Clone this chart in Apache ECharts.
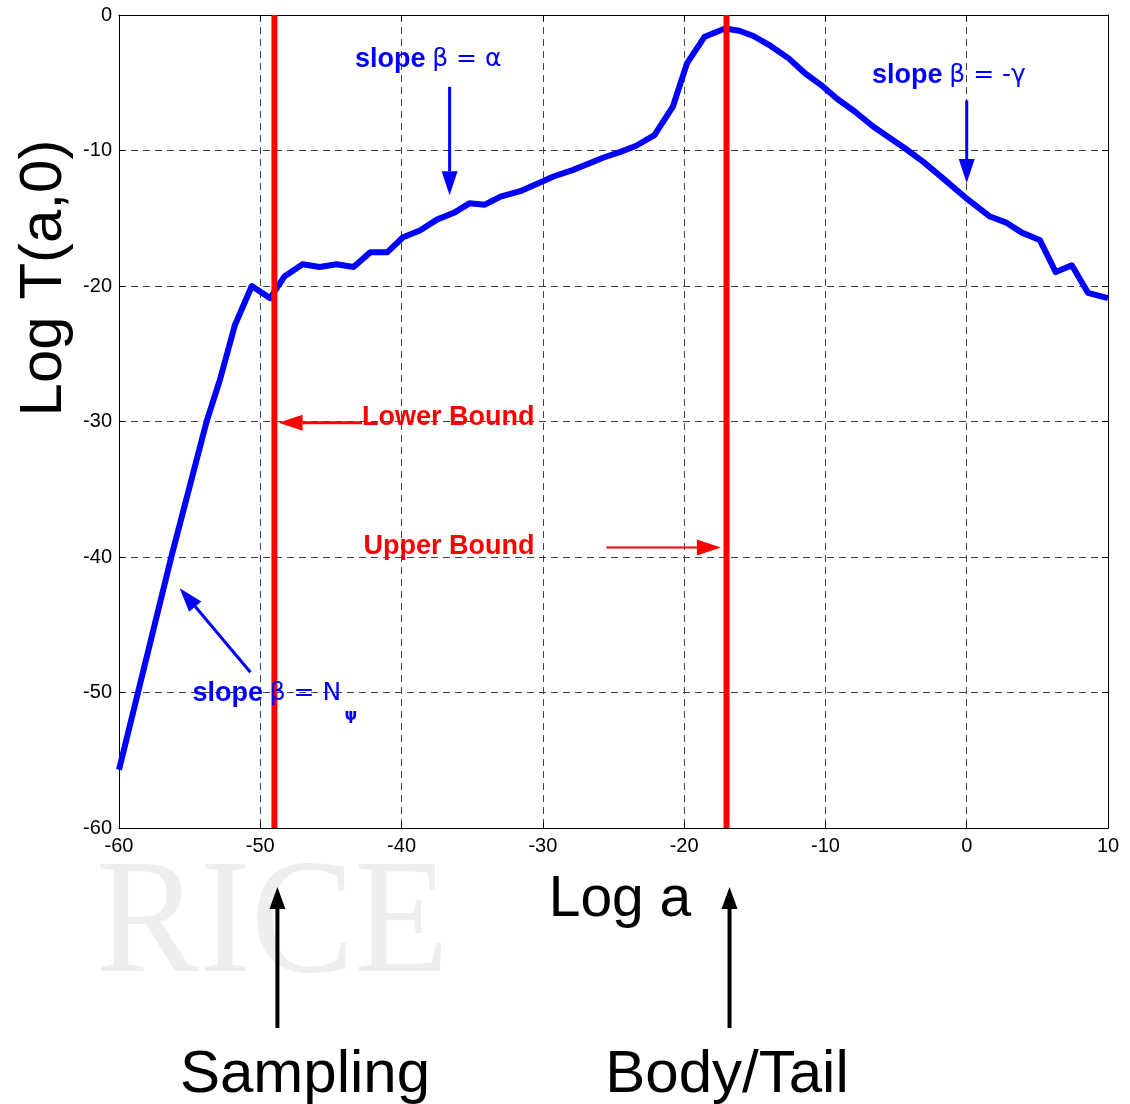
<!DOCTYPE html>
<html>
<head>
<meta charset="utf-8">
<script src="https://cdn.jsdelivr.net/npm/echarts@6/dist/echarts.min.js"></script>
<style>
  html, body { margin: 0; padding: 0; background: #fff; }
  #charts { width: 1130px; height: 1104px; }
</style>
</head>
<body>
<div id="charts"></div>
<script>
// curve
var logA = [-60, -56.3, -53.8, -52.85, -51.8, -50.6, -49.3, -48.3, -47.0, -45.8, -44.6, -43.4,
  -42.2, -41.0, -39.9, -38.7, -37.5, -36.3, -35.2, -34.1, -33.0, -31.6, -29.2, -27.9, -25.65,
  -24.5, -23.4, -22.1, -20.8, -19.8, -18.55, -17.1, -16.1, -15.1, -14.0, -12.6, -11.45, -10.3,
  -9.2, -7.9, -6.6, -4.35, -3.07, -1.8, -0.09, 1.6, 2.76, 3.9, 5.17, 6.3, 7.44, 8.58, 10];
var logT = [-55.7, -40.0, -30.0, -26.9, -22.9, -20.0, -20.9, -19.3, -18.4, -18.6, -18.4, -18.6,
  -17.5, -17.5, -16.4, -15.9, -15.1, -14.6, -13.9, -14.0, -13.4, -13.0, -11.9, -11.45, -10.5,
  -10.1, -9.65, -8.87, -6.77, -3.57, -1.6, -1.0, -1.16, -1.55, -2.2, -3.2, -4.3, -5.17,
  -6.16, -7.14, -8.25, -9.85, -10.84, -11.95, -13.47, -14.85, -15.3, -16.06, -16.6, -18.97, -18.47, -20.5, -20.9];

var xMin = -60, xMax = 10, xStep = 10;
var yMin = -60, yMax = 0, yStep = 10;

// sampling bound and body/tail split
var boundX = [-49, -17];

var curve = logA.map(function (a, i) { return [a, logT[i]]; });

var chart = echarts.init(document.getElementById('charts'));

var tickFont = { fontFamily: 'Liberation Sans', fontSize: 20, color: '#000' };

var option = {
  animation: false,
  backgroundColor: '#fff',
  grid: { left: 119, top: 15, width: 989, height: 813, show: false },
  xAxis: [
    {
      type: 'value', min: xMin, max: xMax, interval: xStep,
      axisLine: { onZero: false, lineStyle: { color: '#000', width: 1 } },
      axisTick: { inside: true, length: 6, lineStyle: { color: '#000' } },
      axisLabel: Object.assign({ margin: 8 }, tickFont),
      splitLine: { show: true, lineStyle: { color: '#444', type: [7, 5], width: 1 } }
    },
    {
      type: 'value', position: 'top', min: xMin, max: xMax, interval: xStep,
      axisLine: { onZero: false, lineStyle: { color: '#000', width: 1 } },
      axisTick: { inside: true, length: 6, lineStyle: { color: '#000' } },
      axisLabel: { show: false },
      splitLine: { show: false }
    }
  ],
  yAxis: [
    {
      type: 'value', min: yMin, max: yMax, interval: yStep,
      axisLine: { onZero: false, lineStyle: { color: '#000', width: 1 } },
      axisTick: { inside: true, length: 6, lineStyle: { color: '#000' } },
      axisLabel: Object.assign({ margin: 7 }, tickFont),
      splitLine: { show: true, lineStyle: { color: '#444', type: [7, 5], width: 1 } }
    },
    {
      type: 'value', position: 'right', min: yMin, max: yMax, interval: yStep,
      axisLine: { onZero: false, lineStyle: { color: '#000', width: 1 } },
      axisTick: { inside: true, length: 6, lineStyle: { color: '#000' } },
      axisLabel: { show: false },
      splitLine: { show: false }
    }
  ],
  series: [
    {
      type: 'line', data: curve, showSymbol: false, clip: true, z: 3,
      lineStyle: { color: '#0000ff', width: 6, join: 'round' }
    },
    {
      type: 'line', data: [[boundX[0], yMax], [boundX[0], yMin]], showSymbol: false, z: 4,
      lineStyle: { color: '#ff0000', width: 6 }
    },
    {
      type: 'line', data: [[boundX[1], yMax], [boundX[1], yMin]], showSymbol: false, z: 4,
      lineStyle: { color: '#ff0000', width: 6 }
    }
  ]
};
chart.setOption(option);

// annotations, in data units
var notes = [
  { at: [-43.3, -3.3], text: '{b|slope}  {g|β = α}', color: '#0000ff' },
  { at: [-6.7, -4.5], text: '{b|slope}  {g|β = -γ}', color: '#0000ff' },
  { at: [-42.8, -29.7], text: '{b|Lower Bound}', color: '#ff0000' },
  { at: [-42.7, -39.2], text: '{b|Upper Bound}', color: '#ff0000' },
  { at: [-54.8, -50.1], text: '{b|slope}  {g|β = N}', color: '#0000ff' }
];
var arrows = [
  { from: [-36.6, -5.3], to: [-36.6, -13.3], color: '#0000ff', w: 3 },
  { from: [0, -6.3], to: [0, -12.4], color: '#0000ff', w: 3 },
  { from: [-42.8, -30.1], to: [-48.7, -30.1], color: '#ff0000', w: 3 },
  { from: [-25.5, -39.3], to: [-17.4, -39.3], color: '#ff0000', w: 2 },
  { from: [-50.7, -48.5], to: [-55.7, -42.3], color: '#0000ff', w: 3 }
];

function px(p) { return chart.convertToPixel({ gridIndex: 0 }, p); }

function arrow(p0, p1, color, w, len, hw) {
  var dx = p1[0] - p0[0], dy = p1[1] - p0[1];
  var L = Math.sqrt(dx * dx + dy * dy);
  var ux = dx / L, uy = dy / L;
  var bx = p1[0] - ux * len, by = p1[1] - uy * len;
  return [
    { type: 'line', z: 10, shape: { x1: p0[0], y1: p0[1], x2: bx, y2: by }, style: { stroke: color, lineWidth: w } },
    { type: 'polygon', z: 10, shape: { points: [p1, [bx - uy * hw, by + ux * hw], [bx + uy * hw, by - ux * hw]] }, style: { fill: color } }
  ];
}

var els = [];

// watermark
els.push({
  type: 'text', z: -1, x: 96, y: 846, scaleX: 0.88, scaleY: 0.93,
  style: { text: 'RICE', font: '176px "Liberation Serif"', fill: '#eeeeee', textVerticalAlign: 'top' }
});

notes.forEach(function (n) {
  var p = px(n.at);
  els.push({
    type: 'text', z: 11, x: p[0], y: p[1],
    style: {
      text: n.text, textVerticalAlign: 'middle',
      rich: {
        b: { fontFamily: 'Liberation Sans', fontWeight: 'bold', fontSize: 27, fill: n.color, color: n.color },
        g: { fontFamily: 'DejaVu Sans', fontSize: 25, fill: n.color, color: n.color }
      }
    }
  });
});
var psi = px([-54.8, -51.7]);
els.push({ type: 'text', z: 11, x: psi[0] + 152, y: psi[1], style: { text: 'ψ', font: 'bold 16px "DejaVu Sans"', fill: '#0000ff', textVerticalAlign: 'middle' } });

arrows.forEach(function (a) {
  els = els.concat(arrow(px(a.from), px(a.to), a.color, a.w, 24, 8));
});

// axis titles
els.push({ type: 'text', x: 620, y: 900, style: { text: 'Log a', font: '57px "Liberation Sans"', fill: '#000', textAlign: 'center', textVerticalAlign: 'middle' } });
els.push({ type: 'text', x: 44, y: 278, rotation: Math.PI / 2, style: { text: 'Log T(a,0)', font: '60px "Liberation Sans"', fill: '#000', textAlign: 'center', textVerticalAlign: 'middle' } });

// sampling and body/tail pointers below the axis
var labels = ['Sampling', 'Body/Tail'];
var labelX = [305, 727];
boundX.forEach(function (b, i) {
  var x = px([b, yMin])[0];
  els = els.concat(arrow([x + 3, 1028], [x + 3, 887], '#000', 4, 22, 8));
  els.push({ type: 'text', x: labelX[i], y: 1075, style: { text: labels[i], font: '60px "Liberation Sans"', fill: '#000', textAlign: 'center', textVerticalAlign: 'middle' } });
});

chart.setOption({ graphic: { elements: els } });
</script>
</body>
</html>
